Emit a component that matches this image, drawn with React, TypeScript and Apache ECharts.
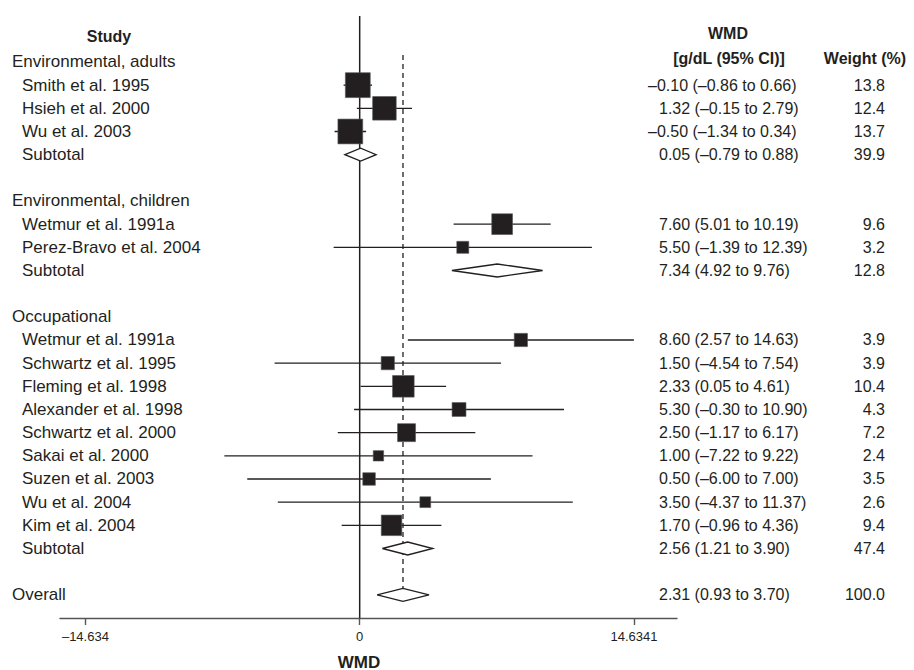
import React, { useEffect, useRef } from "react";
import * as echarts from "echarts";

// ---------- data ----------
const groupNames = ["Environmental, adults", "Environmental, children", "Occupational"];
const studyNames = [
  "Smith et al. 1995", "Hsieh et al. 2000", "Wu et al. 2003",
  "Wetmur et al. 1991a", "Perez-Bravo et al. 2004",
  "Wetmur et al. 1991a", "Schwartz et al. 1995", "Fleming et al. 1998", "Alexander et al. 1998",
  "Schwartz et al. 2000", "Sakai et al. 2000", "Suzen et al. 2003", "Wu et al. 2004", "Kim et al. 2004",
];
const studyGroup = [0, 0, 0, 1, 1, 2, 2, 2, 2, 2, 2, 2, 2, 2];
const studyEst = [-0.10, 1.32, -0.50, 7.60, 5.50, 8.60, 1.50, 2.33, 5.30, 2.50, 1.00, 0.50, 3.50, 1.70];
const studyLo = [-0.86, -0.15, -1.34, 5.01, -1.39, 2.57, -4.54, 0.05, -0.30, -1.17, -7.22, -6.00, -4.37, -0.96];
const studyHi = [0.66, 2.79, 0.34, 10.19, 12.39, 14.63, 7.54, 4.61, 10.90, 6.17, 9.22, 7.00, 11.37, 4.36];
const studyWeight = [13.8, 12.4, 13.7, 9.6, 3.2, 3.9, 3.9, 10.4, 4.3, 7.2, 2.4, 3.5, 2.6, 9.4];
const subEst = [0.05, 7.34, 2.56];
const subLo = [-0.79, 4.92, 1.21];
const subHi = [0.88, 9.76, 3.90];
const subWeight = [39.9, 12.8, 47.4];
const overallEst = 2.31;
const overallLo = 0.93;
const overallHi = 3.70;
const overallWeight = 100.0;
const tickValues = [-14.634, 0, 14.6341];
const tickLabels = ["–14.634", "0", "14.6341"];

// ---------- layout constants ----------
const INK = "#231f20";
const FONT = "'Liberation Sans', Arial, sans-serif";
const X_MIN = -15.99;
const X_MAX = 16.93;
const Y_MIN = -1.985;
const Y_MAX = 24.0;
const EST_X = 659;
const NEG_SHIFT = 11;
const WEIGHT_X = 885;
const DIAMOND_HALF = 6.5;
const BOX_SCALE = 6.7;

type Row = {
  kind: "group" | "study" | "sub" | "overall";
  label: string;
  est?: number;
  lo?: number;
  hi?: number;
  w?: number;
};

function fmt(v: number) {
  return (v < 0 ? "–" : "") + Math.abs(v).toFixed(2);
}

function buildRows(): Row[] {
  const rows: Row[] = [];
  groupNames.forEach((g, gi) => {
    rows.push({ kind: "group", label: g });
    studyNames.forEach((n, i) => {
      if (studyGroup[i] === gi) {
        rows.push({ kind: "study", label: n, est: studyEst[i], lo: studyLo[i], hi: studyHi[i], w: studyWeight[i] });
      }
    });
    rows.push({ kind: "sub", label: "Subtotal", est: subEst[gi], lo: subLo[gi], hi: subHi[gi], w: subWeight[gi] });
    rows.push({ kind: "group", label: "" });
  });
  rows.push({ kind: "overall", label: "Overall", est: overallEst, lo: overallLo, hi: overallHi, w: overallWeight });
  return rows;
}

export default function App() {
  const ref = useRef<HTMLDivElement>(null);
  useEffect(() => {
    if (!ref.current) return;
    const chart = echarts.init(ref.current, undefined, { renderer: "svg" });
    const rows = buildRows();
    const overallRow = rows.length - 1;

    const studyData = rows
      .map((r, k) => (r.kind === "study" ? [k, r.est!, r.lo!, r.hi!, r.w!] : null))
      .filter((d) => d !== null) as number[][];
    const diamondData = rows
      .map((r, k) => (r.kind === "sub" || r.kind === "overall" ? [k, r.est!, r.lo!, r.hi!] : null))
      .filter((d) => d !== null) as number[][];
    const textData = rows.map((_, k) => [k]);

    const textStyle = (text: string, x: number, y: number, align: string, size: number, bold = false) => ({
      type: "text",
      style: {
        text,
        x,
        y,
        fill: INK,
        fontSize: size,
        fontFamily: FONT,
        fontWeight: bold ? "bold" : "normal",
        align,
        verticalAlign: "middle",
        textAlign: align,
        textVerticalAlign: "middle",
      },
    });

    const option: any = {
      animation: false,
      backgroundColor: "#ffffff",
      grid: { left: 60, right: 914 - 677, top: 16, bottom: 670 - 618 },
      xAxis: {
        type: "value",
        min: X_MIN,
        max: X_MAX,
        splitLine: { show: false },
        axisLine: { show: true, onZero: false, lineStyle: { color: "#555555", width: 1.4 } },
        axisTick: {
          show: true,
          customValues: tickValues,
          length: 7,
          lineStyle: { color: "#555555", width: 1.4 },
        },
        axisLabel: {
          customValues: tickValues,
          fontSize: 13,
          fontFamily: FONT,
          color: INK,
          margin: 12,
          formatter: (v: number) => {
            const i = tickValues.findIndex((t) => Math.abs(t - v) < 1e-6);
            return i >= 0 ? tickLabels[i] : "";
          },
        },
      },
      yAxis: {
        type: "value",
        inverse: true,
        min: Y_MIN,
        max: Y_MAX,
        show: false,
      },
      graphic: [
        textStyle("Study", 109, 36, "center", 16, true),
        textStyle("WMD", 728, 33, "center", 16, true),
        textStyle("[g/dL (95% CI)]", 729, 58, "center", 16, true),
        textStyle("Weight (%)", 865, 58, "center", 16, true),
        textStyle("WMD", 359, 662, "center", 17, true),
      ],
      series: [
        {
          // null line at 0 and dashed overall line
          type: "custom",
          silent: true,
          data: [[0]],
          renderItem: (_p: any, api: any) => {
            const a = api.coord([0, Y_MIN]);
            const b = api.coord([0, Y_MAX]);
            const c = api.coord([overallEst, -0.3]);
            const d = api.coord([overallEst, overallRow]);
            return {
              type: "group",
              children: [
                {
                  type: "line",
                  shape: { x1: a[0], y1: a[1], x2: b[0], y2: b[1] },
                  style: { stroke: INK, lineWidth: 1.5 },
                },
                {
                  type: "line",
                  shape: { x1: c[0], y1: c[1], x2: d[0], y2: d[1] - DIAMOND_HALF },
                  style: { stroke: INK, lineWidth: 1.3, lineDash: [5, 4] },
                },
              ],
            };
          },
        },
        {
          type: "custom",
          silent: true,
          data: studyData,
          encode: { x: 1, y: 0 },
          renderItem: (_p: any, api: any) => {
            const k = api.value(0);
            const c = api.coord([api.value(1), k]);
            const l = api.coord([api.value(2), k]);
            const h = api.coord([api.value(3), k]);
            const s = BOX_SCALE * Math.sqrt(api.value(4));
            return {
              type: "group",
              children: [
                {
                  type: "line",
                  shape: { x1: l[0], y1: l[1], x2: h[0], y2: h[1] },
                  style: { stroke: INK, lineWidth: 1.3 },
                },
                {
                  type: "rect",
                  shape: { x: c[0] - s / 2, y: c[1] - s / 2, width: s, height: s },
                  style: { fill: INK, stroke: "#555555", lineWidth: 0.6 },
                },
              ],
            };
          },
        },
        {
          type: "custom",
          silent: true,
          data: diamondData,
          encode: { x: 1, y: 0 },
          renderItem: (_p: any, api: any) => {
            const k = api.value(0);
            const c = api.coord([api.value(1), k]);
            const l = api.coord([api.value(2), k]);
            const h = api.coord([api.value(3), k]);
            return {
              type: "polygon",
              shape: {
                points: [
                  [l[0], l[1]],
                  [c[0], c[1] - DIAMOND_HALF],
                  [h[0], h[1]],
                  [c[0], c[1] + DIAMOND_HALF],
                ],
              },
              style: { fill: "#ffffff", stroke: INK, lineWidth: 1.3 },
            };
          },
          z: 3,
        },
        {
          type: "custom",
          silent: true,
          data: textData,
          encode: { y: 0 },
          renderItem: (p: any, api: any) => {
            const k = api.value(0);
            const r = rows[k];
            const y = api.coord([0, k])[1];
            const children: any[] = [];
            if (r.label) {
              const x = r.kind === "study" || r.kind === "sub" ? 22 : 12;
              children.push(textStyle(r.label, x, y, "left", 17));
            }
            if (r.est !== undefined) {
              const s = `${fmt(r.est)} (${fmt(r.lo!)} to ${fmt(r.hi!)})`;
              const x = r.est < 0 ? EST_X - NEG_SHIFT : EST_X;
              children.push(textStyle(s, x, y, "left", 16));
              children.push(textStyle(r.w!.toFixed(1), WEIGHT_X, y, "right", 16));
            }
            return { type: "group", children };
          },
        },
      ],
    };
    chart.setOption(option);
    return () => chart.dispose();
  }, []);
  return (
    <div
      ref={ref}
      style={{ position: "fixed", left: 0, top: 0, width: 914, height: 670, background: "#fff" }}
    />
  );
}
